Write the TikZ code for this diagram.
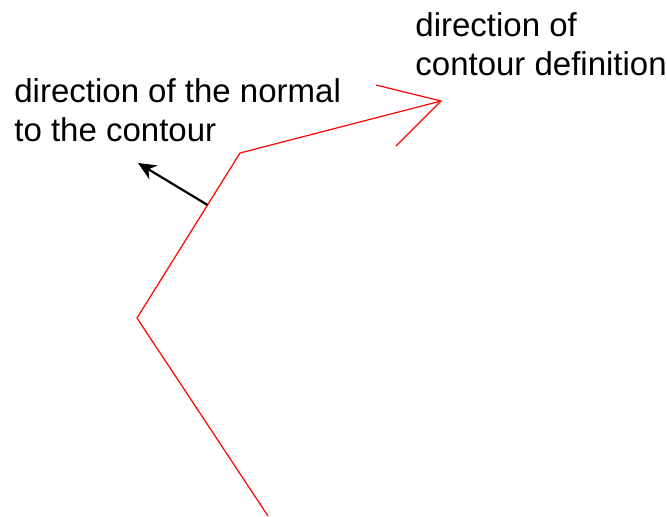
\documentclass[tikz,border=0pt]{standalone}
\usepackage{fontspec}
\setmainfont{Liberation Sans}
\usetikzlibrary{arrows.meta,calc}
\definecolor{contour}{HTML}{FF0000}
\tikzset{lbl/.style={anchor=north west,inner sep=0pt,align=left,font=\fontsize{16.5}{19.5}\selectfont}}
\begin{document}
\begin{tikzpicture}[x=0.5pt,y=-0.5pt]
\useasboundingbox (0,0) rectangle (667,516);
\coordinate (bot) at (268,516);
\coordinate (lv) at (137,318);
\coordinate (tv) at (240,153);
\coordinate (tip) at (441,101);
\coordinate (barbA) at (376,85);
\coordinate (barbB) at (396,146);
\coordinate (ntip) at (138,163);
\draw[contour,line width=0.6pt] (bot) -- (lv) -- (tv) -- (tip);
\draw[contour,line width=0.6pt] (barbA) -- (tip) -- (barbB);
\draw[line width=1.1pt,-{Stealth[length=9pt,width=8pt]}] ($(lv)!0.685!(tv)$) -- (ntip);
\node[lbl] (normal) at (14,78) {direction of the normal\\to the contour};
\node[lbl] (sense) at (415,12) {direction of\\contour definition};
\end{tikzpicture}
\end{document}
